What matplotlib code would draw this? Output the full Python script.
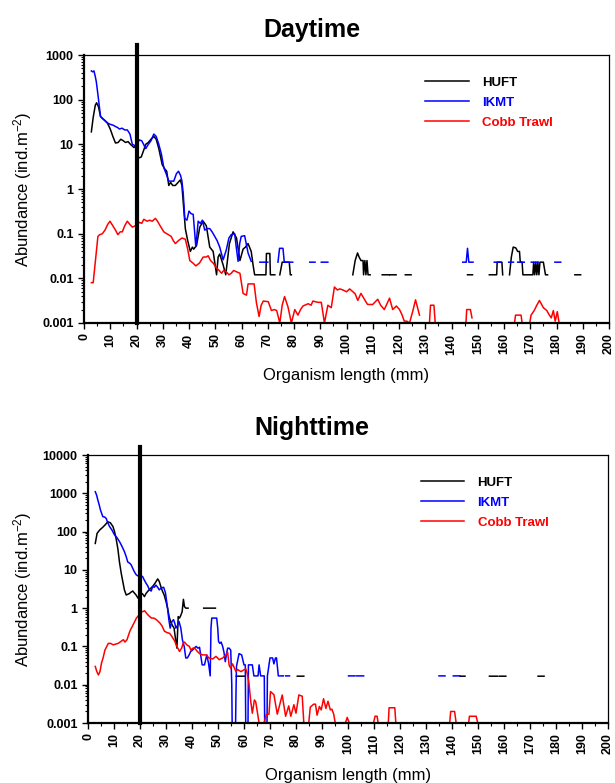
import numpy as np
import matplotlib.pyplot as plt
from matplotlib.ticker import FixedLocator, FixedFormatter, LogLocator, MultipleLocator, NullFormatter

nan = np.nan

# ---- Daytime -------------------------------------------------------------
day_huft_len = [
    2.8, 3.5, 4.3, 4.8, 5.5, 6.3, 7.5, 8.9, 10.0, 11.0,
    12.0, 13.0, 14.0, 15.0, 15.8, 16.8, 17.7, 19.0, 19.6, 20.3,
    21.0, 21.8, 22.6, 23.5, 24.5, 25.5, 26.6, 27.5, 28.5, 29.8,
    30.8, 31.5, 32.3, 33.0, 33.8, 34.8, 35.8, 36.7, 37.3, 37.8,
    38.6, 39.5, 40.5, 41.3, 41.8, 42.9, 44.1, 45.4, 46.6, 47.9,
    49.2, 50.5, 51.1, 51.7, 53.0, 54.0, 55.4, 56.8, 58.1, 59.4,
    60.6, 61.5, 62.5, 63.7, 64.4, 65.0, 69.3, 69.5, 70.8, 71.0,
    72.7, nan, 74.6, 75.5, 78.2, 78.6, 79.0, nan, 102.4, 103.3,
    104.2, 104.8, 105.5, 106.3, 106.5, 107.0, 107.4, 107.8, 108.2, 109.0,
    nan, 113.6, 116.2, nan, 116.6, 118.9, nan, 122.4, 124.6, nan,
    146.1, 148.0, nan, 154.4, 157.2, 157.4, 159.2, 159.5, nan, 162.1,
    162.8, 163.5, 164.5, 165.2, 165.9, 166.2, 166.9, 167.2, 171.0, 171.3,
    171.7, 172.1, 172.5, 172.9, 173.3, 173.7, 175.0, 175.8, 176.6, nan,
    187.0, 189.2]
day_huft_abund = [
    19, 40, 75, 85, 70, 42, 36, 30, 22, 15,
    10.7, 11, 13, 12, 11, 11.5, 10, 8.5, 9, 5,
    5, 5.2, 7, 10, 11, 13, 15, 13, 8, 3.5,
    2.8, 2.5, 1.2, 1.4, 1.2, 1.2, 1.4, 1.6, 1.2, 0.5,
    0.13, 0.07, 0.04, 0.05, 0.045, 0.055, 0.14, 0.19, 0.15, 0.05,
    0.04, 0.012, 0.03, 0.035, 0.02, 0.012, 0.06, 0.11, 0.08, 0.025,
    0.045, 0.05, 0.06, 0.04, 0.02, 0.012, 0.012, 0.036, 0.036, 0.012,
    0.012, nan, 0.012, 0.023, 0.023, 0.012, 0.012, nan, 0.012, 0.025,
    0.037, 0.03, 0.025, 0.025, 0.012, 0.025, 0.012, 0.025, 0.012, 0.012,
    nan, 0.012, 0.012, nan, 0.012, 0.012, nan, 0.012, 0.012, nan,
    0.012, 0.012, nan, 0.012, 0.012, 0.023, 0.023, 0.012, nan, 0.012,
    0.03, 0.05, 0.048, 0.04, 0.04, 0.023, 0.023, 0.012, 0.012, 0.023,
    0.012, 0.023, 0.012, 0.023, 0.012, 0.023, 0.023, 0.012, 0.012, nan,
    0.012, 0.012]

day_ikmt_len = [
    2.8, 3.3, 3.8, 4.3, 4.7, 5.3, 6.3, 7.0, 8.0, 9.0,
    10.0, 11.0, 12.0, 12.7, 13.5, 14.5, 15.5, 16.5, 17.5, 18.4,
    19.2, 20.0, 21.0, 22.0, 22.7, 23.5, 24.5, 25.5, 26.6, 27.5,
    28.5, 29.5, 30.4, 31.3, 32.3, 33.3, 34.2, 35.2, 36.0, 36.8,
    37.3, 37.8, 38.4, 39.2, 40.0, 40.8, 41.6, 42.6, 43.5, 44.3,
    45.1, 46.0, 47.0, 47.9, 48.8, 49.8, 50.7, 51.7, 53.0, 54.2,
    55.2, 56.1, 57.4, 58.0, 58.7, 59.3, 59.9, 61.2, 62.5, 63.7,
    nan, 67.0, 70.0, nan, 73.9, 74.5, 75.8, 76.3, 79.5, nan,
    86.0, 88.0, nan, 90.4, 92.9, nan, 144.3, 145.6, 146.1, 146.6,
    148.2, nan, 156.3, 158.8, nan, 161.8, 163.6, nan, 165.2, 167.7,
    nan, 170.4, 173.0, nan, 179.4, 181.6]
day_ikmt_abund = [
    440, 420, 440, 330, 250, 130, 42, 38, 34, 30,
    28, 27, 25, 24, 22, 23, 21, 21, 17, 10,
    9.5, 8.5, 12.6, 12, 10, 8, 10, 12, 17, 15,
    10, 6, 3, 2.2, 1.5, 1.5, 1.5, 2.2, 2.5, 2.0,
    1.5, 0.8, 0.22, 0.2, 0.32, 0.28, 0.27, 0.051, 0.19, 0.17,
    0.2, 0.12, 0.13, 0.13, 0.11, 0.087, 0.07, 0.05, 0.026, 0.043,
    0.08, 0.095, 0.1, 0.05, 0.024, 0.06, 0.087, 0.09, 0.037, 0.024,
    nan, 0.023, 0.023, nan, 0.023, 0.047, 0.047, 0.023, 0.023, nan,
    0.023, 0.023, nan, 0.023, 0.023, nan, 0.023, 0.023, 0.047, 0.023,
    0.023, nan, 0.023, 0.023, nan, 0.023, 0.023, nan, 0.023, 0.023,
    nan, 0.023, 0.023, nan, 0.023, 0.023]

day_cobb_len = [
    2.8, 3.5, 4.5, 5.3, 6.0, 7.0, 8.0, 9.0, 9.9, 11.0,
    12.0, 12.9, 13.8, 14.6, 15.5, 16.5, 17.5, 18.4, 19.5, 20.3,
    21.0, 22.0, 22.8, 24.0, 25.0, 26.0, 27.2, 28.0, 29.0, 30.4,
    31.5, 33.2, 34.0, 34.8, 36.0, 37.3, 38.6, 39.5, 40.3, 41.5,
    42.6, 44.0, 45.4, 46.6, 47.3, 48.2, 49.2, 50.5, 51.5, 52.4,
    53.2, 54.2, 55.2, 56.1, 57.0, 58.1, 59.4, 60.6, 61.9, 62.5,
    63.2, 64.8, 65.7, 66.7, 67.5, 68.3, 70.2, 71.4, 72.5, 73.4,
    74.6, 75.5, 76.4, 77.7, 79.0, 80.3, 81.5, 82.5, 83.4, 85.4,
    86.5, 87.2, 89.1, 90.4, 91.6, 92.9, 94.2, 95.4, 96.5, 97.5,
    98.6, 100.0, 101.2, 102.4, 103.3, 104.3, 105.5, 106.7, 108.0, 110.0,
    111.9, 113.0, 114.4, 116.4, 117.6, 119.0, 120.2, 121.2, 122.0, 123.0,
    124.0, 125.2, 126.3, 127.8, nan, 131.6, 132.0, 133.3, 133.8, 134.2,
    nan, 145.5, 145.8, 147.2, 147.8, nan, 164.0, 164.4, 166.5, 166.9,
    nan, 169.8, 170.3, 171.5, 172.5, 173.5, 174.2, 175.0, 176.3, 177.0,
    178.0, 178.8, 179.5, 180.3, 181.0, 182.0, nan, 191.0, 197.0]
day_cobb_abund = [
    0.008, 0.008, 0.03, 0.087, 0.095, 0.1, 0.12, 0.16, 0.19, 0.15,
    0.12, 0.095, 0.11, 0.11, 0.15, 0.19, 0.16, 0.14, 0.15, 0.15,
    0.18, 0.17, 0.21, 0.19, 0.2, 0.19, 0.22, 0.19, 0.15, 0.11,
    0.1, 0.087, 0.07, 0.06, 0.07, 0.08, 0.075, 0.045, 0.025, 0.022,
    0.019, 0.022, 0.03, 0.03, 0.032, 0.025, 0.022, 0.017, 0.015, 0.013,
    0.015, 0.014, 0.012, 0.013, 0.015, 0.014, 0.013, 0.0046, 0.0042, 0.0075,
    0.0075, 0.0075, 0.0028, 0.0014, 0.0025, 0.0031, 0.003, 0.0019, 0.002, 0.0019,
    0.001, 0.0025, 0.0039, 0.0023, 0.001, 0.002, 0.0015, 0.002, 0.0024, 0.0027,
    0.0025, 0.0031, 0.0029, 0.0029, 0.001, 0.0025, 0.0022, 0.0064, 0.0055, 0.0058,
    0.0055, 0.005, 0.0058, 0.005, 0.0045, 0.0032, 0.0046, 0.0035, 0.0026, 0.0026,
    0.0034, 0.0025, 0.002, 0.0036, 0.002, 0.0024, 0.002, 0.0015, 0.0011, 0.0011,
    0.001, 0.0018, 0.0033, 0.0015, nan, 0.001, 0.0025, 0.0025, 0.001, 0.001,
    nan, 0.001, 0.002, 0.002, 0.0013, nan, 0.001, 0.0015, 0.0015, 0.001,
    nan, 0.001, 0.0015, 0.0019, 0.0025, 0.0032, 0.0027, 0.0022, 0.0019, 0.0016,
    0.0013, 0.0019, 0.0011, 0.0018, 0.001, 0.001, nan, 0.001, 0.001]

# ---- Nighttime -----------------------------------------------------------
night_huft_len = [
    2.8, 3.5, 4.5, 5.7, 6.6, 7.6, 8.6, 9.6, 10.2, 10.8,
    11.5, 12.1, 12.8, 13.4, 14.0, 14.7, 15.3, 15.9, 16.5, 17.2,
    17.8, 18.5, 19.3, 20.1, 20.9, 21.7, 22.3, 22.9, 23.9, 24.9,
    25.8, 26.8, 27.4, 28.0, 28.6, 29.3, 30.0, 30.6, 31.2, 31.9,
    32.5, 33.1, 33.7, 34.2, 34.7, 35.2, 35.7, 36.2, 36.7, 37.1,
    37.6, 38.5, nan, 44.5, 49.0, nan, 57.0, 60.5, nan, 80.5,
    83.0, nan, 143.1, 145.0, nan, 154.4, 157.5, nan, 158.2, 160.7,
    nan, 173.1, 175.4]
night_huft_abund = [
    49, 90, 110, 130, 150, 180, 170, 135, 100, 66,
    35, 16, 8, 4.9, 3, 2.2, 2.3, 2.4, 2.6, 2.8,
    2.5, 2.2, 1.8, 2.2, 2.4, 2.0, 2.4, 2.7, 3.2, 3.7,
    4.5, 5.8, 5.0, 3.7, 2.8, 2.2, 1.5, 1.0, 0.6, 0.42,
    0.35, 0.3, 0.15, 0.09, 0.6, 0.55, 0.65, 0.8, 1.7, 1.1,
    1.0, 1.0, nan, 1.0, 1.0, nan, 0.0167, 0.0167, nan, 0.0167,
    0.0167, nan, 0.0167, 0.0167, nan, 0.0167, 0.0167, nan, 0.0167, 0.0167,
    nan, 0.0167, 0.0167]

night_ikmt_len = [
    2.8, 3.3, 3.8, 4.3, 4.8, 5.7, 6.4, 7.0, 7.6, 8.3,
    9.2, 10.2, 11.1, 12.1, 13.0, 14.0, 14.7, 15.3, 16.0, 16.6,
    17.2, 17.8, 18.5, 19.1, 20.0, 21.0, 21.6, 22.3, 23.0, 23.6,
    24.3, 24.9, 25.5, 26.1, 26.8, 27.4, 28.2, 29.1, 29.8, 30.6,
    31.1, 31.6, 32.3, 32.9, 33.4, 33.8, 34.4, 35.0, 35.7, 36.3,
    37.0, 37.6, 38.2, 38.9, 39.5, 40.2, 40.8, 41.6, 42.3, 42.9,
    43.9, 44.8, 45.7, 46.4, 47.0, 47.3, 47.6, 49.5, 49.9, 50.2,
    50.7, 51.2, 51.8, 52.3, 52.8, 53.2, 53.7, 54.3, 54.9, 55.3,
    55.5, 56.7, 56.9, 57.1, 58.1, 59.1, 60.0, 60.5, 60.7, 61.5,
    61.7, 63.2, 63.8, 65.4, 65.8, 66.4, 67.8, 68.0, 68.8, 69.0,
    70.0, 71.0, 71.5, 72.1, 72.5, 73.2, 75.1, nan, 76.0, 77.5,
    nan, 100.2, 102.7, nan, 103.4, 106.0, nan, 135.0, 137.3, nan,
    140.5, 143.1]
night_ikmt_abund = [
    1100, 900, 660, 500, 365, 245, 240, 220, 170, 135,
    110, 82, 70, 55, 42, 30, 22, 16, 15, 13.5,
    11, 9, 7.5, 7, 7, 6.7, 5.5, 4.5, 3.8, 3,
    2.8, 3.7, 3.5, 4, 3.5, 3, 3.4, 3.5, 2.5, 1,
    0.5, 0.3, 0.45, 0.5, 0.4, 0.3, 0.35, 0.45, 0.3, 0.15,
    0.1, 0.05, 0.05, 0.06, 0.074, 0.08, 0.09, 0.1, 0.09, 0.095,
    0.033, 0.033, 0.06, 0.035, 0.017, 0.3, 0.55, 0.55, 0.3, 0.135,
    0.12, 0.13, 0.1, 0.07, 0.04, 0.06, 0.09, 0.09, 0.08, 0.01,
    0.0004, 0.0004, 0.005, 0.03, 0.065, 0.06, 0.033, 0.033, 0.0004, 0.0004,
    0.033, 0.033, 0.017, 0.017, 0.033, 0.017, 0.017, 0.0004, 0.0004, 0.017,
    0.05, 0.05, 0.035, 0.05, 0.05, 0.017, 0.017, nan, 0.017, 0.017,
    nan, 0.017, 0.017, nan, 0.017, 0.017, nan, 0.017, 0.017, nan,
    0.017, 0.017]

night_cobb_len = [
    2.8, 3.4, 4.0, 4.6, 5.2, 5.8, 6.5, 7.2, 7.8, 8.7,
    9.7, 10.6, 11.6, 12.3, 12.9, 13.6, 14.2, 15.0, 16.1, 16.7,
    17.3, 18.0, 18.6, 19.3, 19.9, 20.6, 21.2, 21.8, 22.4, 23.2,
    24.4, 25.3, 26.3, 27.0, 27.5, 28.4, 29.4, 30.4, 31.4, 32.3,
    33.3, 34.2, 35.2, 36.0, 36.6, 37.1, 38.0, 39.0, 39.6, 40.3,
    41.0, 42.0, 42.9, 44.1, 45.5, 46.5, 48.0, 49.2, 50.5, 51.8,
    53.1, 53.7, 54.3, 54.9, 55.6, 56.9, 57.5, 58.8, 60.7, 61.3,
    61.9, 62.6, 63.2, 64.0, 64.5, 65.8, 67.7, 68.6, 69.6, 70.2,
    71.5, 72.8, 74.7, 76.0, 77.2, 78.0, 79.2, 80.0, 81.1, 82.4,
    83.0, 84.9, 85.5, 86.8, 87.5, 88.1, 89.0, 89.7, 90.6, 91.5,
    92.3, 93.2, 93.8, 94.5, 95.1, 99.0, 99.7, 100.5, 101.0, nan,
    104.6, 107.2, nan, 109.8, 110.4, 111.2, 111.6, 115.5, 115.8, 118.0,
    118.4, nan, 128.2, 130.8, nan, 139.1, 139.5, 141.0, 141.6, nan,
    146.4, 146.7, 149.3, 149.9]
night_cobb_abund = [
    0.03, 0.022, 0.018, 0.022, 0.037, 0.05, 0.08, 0.1, 0.12, 0.12,
    0.11, 0.115, 0.12, 0.13, 0.14, 0.15, 0.13, 0.15, 0.25, 0.3,
    0.36, 0.45, 0.55, 0.62, 0.7, 0.8, 0.82, 0.85, 0.75, 0.65,
    0.55, 0.55, 0.5, 0.45, 0.42, 0.35, 0.25, 0.23, 0.22, 0.18,
    0.14, 0.1, 0.074, 0.09, 0.12, 0.13, 0.11, 0.1, 0.08, 0.09,
    0.09, 0.075, 0.065, 0.06, 0.06, 0.05, 0.047, 0.055, 0.045, 0.05,
    0.06, 0.07, 0.032, 0.027, 0.035, 0.022, 0.025, 0.022, 0.026, 0.019,
    0.011, 0.0036, 0.0018, 0.004, 0.0036, 0.001, 0.001, 0.0017, 0.0017, 0.0066,
    0.0055, 0.0017, 0.0054, 0.0015, 0.0028, 0.0015, 0.003, 0.0018, 0.0054, 0.005,
    0.001, 0.001, 0.0026, 0.0031, 0.0031, 0.0016, 0.0027, 0.0022, 0.0043, 0.0024,
    0.0037, 0.0022, 0.0023, 0.0017, 0.001, 0.001, 0.0014, 0.001, 0.001, nan,
    0.001, 0.001, nan, 0.001, 0.0015, 0.0015, 0.001, 0.001, 0.0025, 0.0025,
    0.001, nan, 0.001, 0.001, nan, 0.001, 0.002, 0.002, 0.001, nan,
    0.001, 0.0015, 0.0015, 0.001]

gear_names = ['HUFT', 'IKMT', 'Cobb Trawl']
gear_colors = ['black', '#0000ff', '#ff0000']

x_ticks = list(range(0, 201, 10))
day_yticks = [0.001, 0.01, 0.1, 1, 10, 100, 1000]
day_ylabels = ['0.001', '0.01', '0.1', '1', '10', '100', '1000']
night_yticks = [0.001, 0.01, 0.1, 1, 10, 100, 1000, 10000]
night_ylabels = ['0.001', '0.01', '0.1', '1', '10', '100', '1000', '10000']

plt.rcParams['font.family'] = ['Liberation Sans', 'DejaVu Sans']
plt.rcParams['mathtext.default'] = 'regular'

fig = plt.figure(figsize=(6.15, 7.83), dpi=100)
ax_day = fig.add_axes([84 / 615, 460 / 783, 525 / 615, 268 / 783])
ax_night = fig.add_axes([88 / 615, 60 / 783, 520 / 615, 268 / 783])


def draw_panel(ax, series, yticks, ylabels, ytop, leg_x, ylab_x, vline_top):
    lines = []
    for (xs, ys), name, col in zip(series, gear_names, gear_colors):
        ln, = ax.plot(xs, ys, color=col, lw=1.1, label=name)
        lines.append(ln)
    ax.axvline(20, ymin=0, ymax=vline_top, color='black', lw=3, clip_on=False, zorder=5)

    ax.set_yscale('log')
    ax.set_xlim(0, 200)
    ax.set_ylim(0.001, ytop)
    ax.yaxis.set_major_locator(FixedLocator(yticks))
    ax.yaxis.set_major_formatter(FixedFormatter(ylabels))
    ax.yaxis.set_minor_locator(LogLocator(base=10, subs=np.arange(2, 10), numticks=20))
    ax.yaxis.set_minor_formatter(NullFormatter())
    ax.xaxis.set_major_locator(FixedLocator(x_ticks))
    ax.xaxis.set_minor_locator(MultipleLocator(5))

    ax.tick_params(which='major', direction='out', length=4, width=1,
                   labelsize=9, top=False, right=False)
    ax.tick_params(which='minor', direction='out', length=2.5, width=0.8,
                   top=False, right=False)
    for lab in ax.get_xticklabels():
        lab.set_rotation(90)
        lab.set_fontweight('bold')
    for lab in ax.get_yticklabels():
        lab.set_fontweight('bold')

    for side in ['left', 'bottom']:
        ax.spines[side].set_linewidth(1.6)
    for side in ['top', 'right']:
        ax.spines[side].set_linewidth(0.9)

    ax.set_xlabel('Organism length (mm)', fontsize=12)
    ax.xaxis.set_label_coords(0.5, -0.195)
    ax.xaxis.label.set_verticalalignment('center')
    ax.set_ylabel('Abundance (ind.m$^{-2}$)', fontsize=12)
    ax.yaxis.set_label_coords(ylab_x, 0.5)
    ax.yaxis.label.set_verticalalignment('center')

    ax.legend(lines, gear_names, loc='upper left', bbox_to_anchor=(leg_x, 0.92),
              frameon=False, prop={'weight': 'bold', 'size': 9.5},
              labelcolor='linecolor', handlelength=3.3, handletextpad=1.0,
              labelspacing=0.6, borderpad=0, borderaxespad=0)


draw_panel(ax_day,
           [(day_huft_len, day_huft_abund), (day_ikmt_len, day_ikmt_abund),
            (day_cobb_len, day_cobb_abund)],
           day_yticks, day_ylabels, 1000, 0.65, -0.118, 1.037)
draw_panel(ax_night,
           [(night_huft_len, night_huft_abund), (night_ikmt_len, night_ikmt_abund),
            (night_cobb_len, night_cobb_abund)],
           night_yticks, night_ylabels, 10000, 0.64, -0.126, 1.03)

fig.text(312 / 615, 1 - 30 / 783, 'Daytime', ha='center', va='center',
         fontsize=18, fontweight='bold')
fig.text(312 / 615, 1 - 428 / 783, 'Nighttime', ha='center', va='center',
         fontsize=18, fontweight='bold')

fig.savefig('out.png', dpi=100)
